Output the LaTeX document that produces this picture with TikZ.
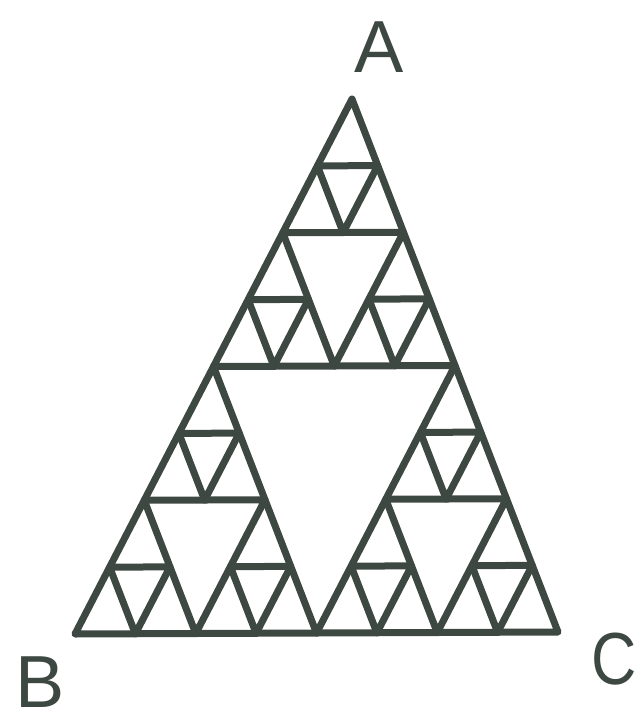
\documentclass[tikz,border=0pt]{standalone}
\usepackage{fontspec}
\setmainfont{Liberation Sans}
\definecolor{marker}{RGB}{62, 72, 66}
\tikzset{
	pen/.style={draw=marker, line width=2.8mm, line join=round, line cap=round},
	letter/.style={text=marker, inner sep=0pt, font=\fontsize{84}{84}\selectfont},
}
\begin{document}
\begin{tikzpicture}[x=0.4mm, y=-0.4mm]
	\useasboundingbox (0,0) rectangle (642,722);
	\coordinate (A) at (352,99);
	\coordinate (B) at (75,634);
	\coordinate (C) at (558,632);
	\node[letter] (la) at (379,47) {A};
	\node[letter] (lb) at (40,682) {B};
	\node[letter, xscale=0.85] (lc) at (614,659) {C};
	\draw[pen] (A) -- (B) -- (C) -- cycle;
	% affine frame: x along A->B, y along A->C
	\begin{scope}[shift={(A)}, x={(-110.8mm,-214mm)}, y={(82.4mm,-213.2mm)}]
		\draw[pen] (.5,0) -- (0,.5) -- (.5,.5) -- cycle;
		\foreach \ua/\va in {0/0,1/0,0/1}{
			\draw[pen] ({\ua/2+1/4},{\va/2}) -- ({\ua/2},{\va/2+1/4}) -- ({\ua/2+1/4},{\va/2+1/4}) -- cycle;
			\foreach \ub/\vb in {0/0,1/0,0/1}
				\draw[pen] ({\ua/2+\ub/4+1/8},{\va/2+\vb/4}) -- ({\ua/2+\ub/4},{\va/2+\vb/4+1/8}) -- ({\ua/2+\ub/4+1/8},{\va/2+\vb/4+1/8}) -- cycle;
		}
	\end{scope}
\end{tikzpicture}
\end{document}
